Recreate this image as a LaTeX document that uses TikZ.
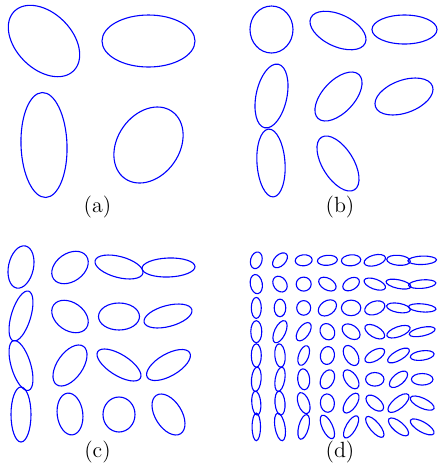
\documentclass[tikz,border=0pt]{standalone}
\usepackage{tikz}
\tikzset{
  metric/.style={
    draw=blue,
    line width=0.55pt
  },
  panel/.style={
    inner sep=0pt,
    font=\fontsize{11}{13}\selectfont
  }
}
\begin{document}
\begin{tikzpicture}[x=0.5pt, y=-0.5pt]
  \useasboundingbox (0,0) rectangle (438,463);

  % (a) 2x2
  \foreach \x/\y/\a/\b/\r in {44/41/42/28/-45, 148.5/41/46.5/26/0,
                             44/145/52.5/23/92, 148.5/145/41/31/55}
    \draw[metric, rotate around={\r:(\x,\y)}] (\x,\y) ellipse [x radius=\a, y radius=\b];

  % (b) 3x3
  \foreach \x/\y/\a/\b/\r in {271.5/29.5/21.5/23.5/0, 338/30.5/30/16/-25, 404.5/29.5/32.5/14.5/0,
                             271.5/96/32.5/15.4/78, 338.5/96.5/30/16/47, 404/96.5/30.3/16.3/20,
                             271/163/34/14/94, 338/163.5/31/15.5/-58}
    \draw[metric, rotate around={\r:(\x,\y)}] (\x,\y) ellipse [x radius=\a, y radius=\b];

  % (c) 4x4
  \foreach \x/\y/\a/\b/\r in {21/267/21.5/12.5/78, 70/267.5/20/14/35, 119/267/24.7/10.5/-15, 168.5/267.5/26.5/9.5/2,
                             21/316/26/9.7/73, 70/316.5/20/14/-35, 119/316.5/20.5/13.5/0, 168/316/24.7/10.5/15,
                             21/365.5/26/9.7/107, 70/365.5/23.4/12.8/55, 119/365/25.1/10.5/-32, 168.5/365/24.5/11/30,
                             21/414.5/27.5/10/90, 70/414/21/12.8/97, 119/414.5/16/17.5/0, 168.5/414.5/22.7/13.3/-58}
    \draw[metric, rotate around={\r:(\x,\y)}] (\x,\y) ellipse [x radius=\a, y radius=\b];

  % (d) 8x8
  \foreach \i/\j/\a/\b/\r [evaluate=\i as \x using 256.3+23.7*(\i-1),
                           evaluate=\j as \y using 260.3+23.8*(\j-1)] in {
      1/1/8.5/5.7/75, 2/1/9/5.5/45, 3/1/8.5/5.5/5, 4/1/10/5/5,
      5/1/9.7/5.5/5, 6/1/11/5.3/15, 7/1/11.8/5/-5, 8/1/14.3/4.2/2,
      1/2/9.7/6/100, 2/2/8.5/6.5/-55, 3/2/7.5/7/0, 4/2/9.5/5.8/-30,
      5/2/9/5.8/30, 6/2/11.3/5/-20, 7/2/12.7/4.3/-12, 8/2/13.7/4.2/5,
      1/3/10.5/5/90, 2/3/8.8/5.8/90, 3/3/7.3/7/90, 4/3/10/7/35,
      5/3/9.7/7.8/0, 6/3/10.5/6.5/20, 7/3/12/4.6/-10, 8/3/13.8/4/-5,
      1/4/11/5.5/90, 2/4/12/5.5/65, 3/4/10.5/5.5/55, 4/4/8.5/7/-60,
      5/4/10/6.5/-35, 6/4/11/5.5/-30, 7/4/12.3/5/20, 8/4/13.2/4.3/12,
      1/5/11.7/5/90, 2/5/11.7/5.2/95, 3/5/10.3/5/70, 4/5/9/7/80,
      5/5/11/6.5/120, 6/5/11/5.3/30, 7/5/12.3/4.8/30, 8/5/12/4.7/8,
      1/6/12.2/4.8/85, 2/6/12.3/4.8/80, 3/6/10.5/6/95, 4/6/10/6.5/65,
      5/6/10.8/6/125, 6/6/9.2/6.8/0, 7/6/11/5.5/40, 8/6/10.8/5.8/0,
      1/7/12/4.5/95, 2/7/12/5/95, 3/7/11/5.5/110, 4/7/9.2/7/95,
      5/7/11.5/5.5/55, 6/7/10.5/5.7/-40, 7/7/13/5.5/40, 8/7/13/5/-25,
      1/8/13.8/4.2/90, 2/8/14/5/100, 3/8/12.7/5/75, 4/8/12.8/5.2/115,
      5/8/12.5/5/60, 6/8/13/5/130, 7/8/12.5/5.2/-40, 8/8/13.5/5/-30}
    \draw[metric, rotate around={\r:(\x,\y)}] (\x,\y) ellipse [x radius=\a, y radius=\b];

  \node[panel] (capa) at (97.5,207.5) {(a)};
  \node[panel] (capb) at (340,207.5) {(b)};
  \node[panel] (capc) at (97.5,452) {(c)};
  \node[panel] (capd) at (340,452) {(d)};
\end{tikzpicture}
\end{document}
